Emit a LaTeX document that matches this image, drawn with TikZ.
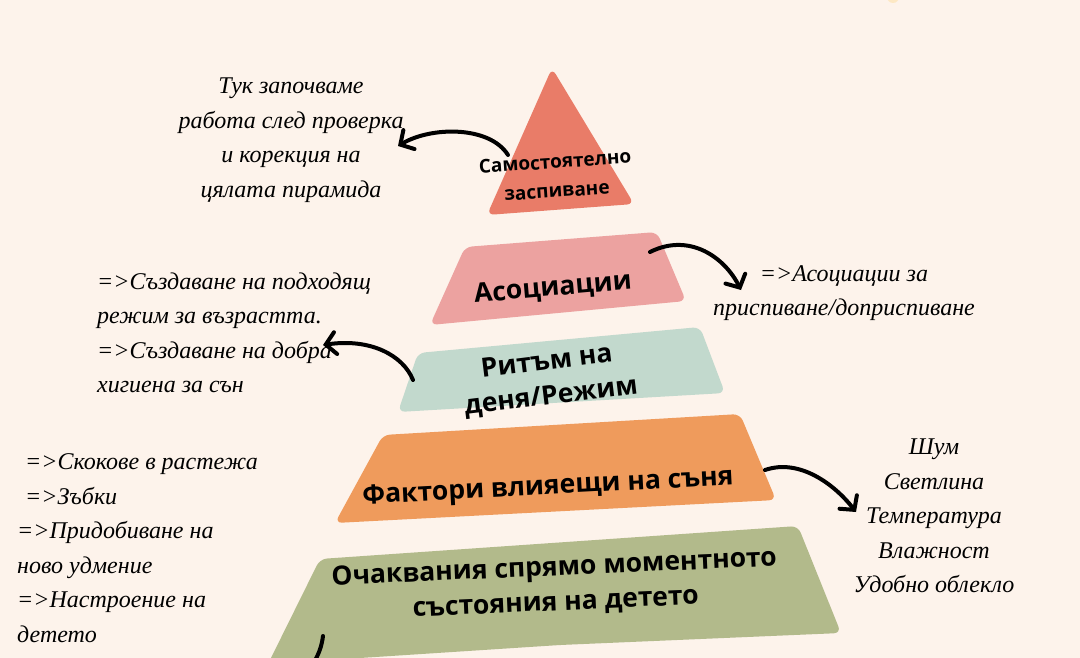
\documentclass[tikz,border=0pt]{standalone}
\usepackage{fontspec}
\setmainfont{Liberation Serif}
\newfontfamily\tierfont{Open Sans}
\usetikzlibrary{arrows.meta,positioning}
\definecolor{paper}{HTML}{FDF3EB}
\definecolor{tierone}{HTML}{E97C68}
\definecolor{tiertwo}{HTML}{ECA2A0}
\definecolor{tierthree}{HTML}{C2D9CD}
\definecolor{tierfour}{HTML}{EF9B5C}
\definecolor{tierfive}{HTML}{B2BA8B}
\definecolor{glow}{HTML}{FFD98A}

\tikzset{
  tier/.style={rounded corners=7pt},
  tierlabel/.style={font=\tierfont\bfseries\fontsize{26.5}{35}\selectfont, align=center, inner sep=0pt},
  note/.style={font=\itshape\fontsize{24}{34.5}\selectfont, align=center, inner sep=0pt},
  sketcharrow/.style={line width=4pt, line cap=round, -{Straight Barb[length=10pt, width=22pt, line cap=round]}}
}

\begin{document}
\begin{tikzpicture}[x=1pt, y=-1pt]
  \useasboundingbox (0,0) rectangle (1080,658);
  \clip (0,0) rectangle (1080,658);
  \fill[paper] (0,0) rectangle (1080,658);
  \fill[glow, opacity=0.4] (893,-3) circle (6);

  % pyramid tiers
  \fill[tierone, tier] (552,68) -- (634,204) -- (487,215) -- cycle;
  \fill[tiertwo, tier] (465,247) -- (657,232) -- (686,301) -- (430,325) -- cycle;
  \fill[tierthree, tier] (418,353) -- (700,327) -- (725,393) -- (398,412) -- cycle;
  \fill[tierfour, tier] (383,435) -- (740,414) -- (776,500) -- (335,523) -- cycle;
  \fill[tierfive, tier] (320,559) -- (798,526) -- (841,633) -- (560,645) -- (268,664) -- cycle;

  % tier labels
  \node[tierlabel, rotate=4, font=\tierfont\bfseries\fontsize{19}{29}\selectfont] (selfsleep) at (556,176) {Самостоятелно\\заспиване};
  \node[tierlabel, rotate=5] (assoc) at (553,289) {Асоциации};
  \node[tierlabel, rotate=7] (rhythm) at (549,380) {Ритъм на\\деня/Режим};
  \node[tierlabel, rotate=3] (factors) at (548,488) {Фактори влияещи на съня};
  \node[tierlabel, rotate=2.5] (expect) at (555,586) {Очаквания спрямо моментното\\състояния на детето};

  % notes
  \node[note] (topnote) at (291,140) {Тук започваме\\работа след проверка\\и корекция на\\цялата пирамида};
  \node[note] (assocnote) at (844,293) {=>Асоциации за\\приспиване/доприспиване};
  \node[note, align=left, anchor=west] (rhythmnote) at (97,333) {=>Създаване на подходящ\\режим за възрастта.\\=>Създаване на добра\\хигиена за сън};
  \node[note] (factornote) at (934,516) {Шум\\Светлина\\Температура\\Влажност\\Удобно облекло};
  \node[note, align=left, anchor=west] (expectnote) at (17,548) {\hspace*{8pt}=>Скокове в растежа\\\hspace*{8pt}=>Зъбки\\=>Придобиване на\\ново удмение\\=>Настроение на\\детето};

  % connectors
  \coordinate (topstart) at (508,155);
  \coordinate (topend) at (398,146);
  \coordinate (assocstart) at (650,252);
  \coordinate (assocend) at (741,290);
  \coordinate (rhythmstart) at (413,380);
  \coordinate (rhythmend) at (323,345);
  \coordinate (factorstart) at (765,470);
  \coordinate (factorend) at (856,512);
  \coordinate (expectstart) at (323,636);
  \coordinate (expectend) at (305,675);
  \draw[sketcharrow] (topstart) .. controls (490,126) and (432,126) .. (topend);
  \draw[sketcharrow] (assocstart) .. controls (690,232) and (725,258) .. (assocend);
  \draw[sketcharrow] (rhythmstart) .. controls (403,355) and (370,338) .. (rhythmend);
  \draw[sketcharrow] (factorstart) .. controls (800,458) and (835,485) .. (factorend);
  \draw[line width=4pt, line cap=round] (expectstart) .. controls (321,652) and (315,662) .. (expectend);
\end{tikzpicture}
\end{document}
